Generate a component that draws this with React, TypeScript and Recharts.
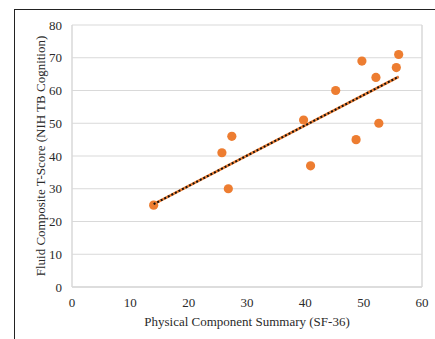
import React from 'react';
import {
  ScatterChart,
  Scatter,
  XAxis,
  YAxis,
  CartesianGrid,
  ReferenceLine,
} from 'recharts';

// Physical Component Summary (SF-36) vs Fluid Composite T-Score
const pcsScores = [14, 25.7, 27.4, 26.8, 39.7, 40.9, 45.2, 48.7, 49.7, 52.1, 52.6, 55.6, 56];
const fluidScores = [25, 41, 46, 30, 51, 37, 60, 45, 69, 64, 50, 67, 71];

// linear trendline endpoints
const trendX = [14, 56];
const trendY = [25.3, 64.2];

const xTicks = [0, 10, 20, 30, 40, 50, 60];
const yTicks = [0, 10, 20, 30, 40, 50, 60, 70, 80];

const points = pcsScores.map((x, i) => ({ x, y: fluidScores[i] }));
const trend = trendX.map((x, i) => ({ x, y: trendY[i] }));

const font = '"Liberation Serif", "Times New Roman", serif';
const gridColor = '#d9d9d9';
const textColor = '#2a2a2a';

const Dot = (props: any) => (
  <circle cx={props.cx} cy={props.cy} r={4.6} fill="#ED7D31" />
);

export default function App() {
  return (
    <div
      style={{
        position: 'absolute',
        left: 0,
        top: 0,
        width: 435,
        height: 339,
        overflow: 'hidden',
        background: '#fff',
      }}
    >
      <div
        style={{
          position: 'absolute',
          left: 14,
          top: 9,
          width: 460,
          height: 360,
          border: '1.5px solid #222',
        }}
      />
      <div style={{ position: 'absolute', left: 0, top: 0 }}>
        <ScatterChart
          width={435}
          height={339}
          margin={{ top: 25, right: 13, bottom: 22, left: 12 }}
        >
          <CartesianGrid
            vertical={false}
            stroke={gridColor}
            strokeWidth={1.2}
          />
          <XAxis
            type="number"
            dataKey="x"
            domain={[0, 60]}
            ticks={xTicks}
            tickLine={false}
            axisLine={{ stroke: gridColor, strokeWidth: 1.5 }}
            tickMargin={5}
            height={30}
            tick={{ fill: textColor, fontSize: 13, fontFamily: font }}
            label={{
              value: 'Physical Component Summary (SF-36)',
              position: 'insideBottom',
              offset: -9,
              fill: textColor,
              fontSize: 13,
              fontFamily: font,
            }}
          />
          <YAxis
            type="number"
            dataKey="y"
            domain={[0, 80]}
            ticks={yTicks}
            tickLine={false}
            axisLine={{ stroke: gridColor, strokeWidth: 1.5 }}
            tickMargin={4}
            width={60}
            tick={{ fill: textColor, fontSize: 13, fontFamily: font }}
            label={{
              value: 'Fluid Composite T-Score (NIH TB Cognition)',
              angle: -90,
              position: 'center',
              dx: -2,
              fill: textColor,
              fontSize: 13,
              fontFamily: font,
            }}
          />
          <ReferenceLine x={60} stroke={gridColor} strokeWidth={1.5} />
          <Scatter data={points} shape={Dot} isAnimationActive={false} />
          <Scatter
            data={trend}
            line={{ stroke: '#ED7D31', strokeWidth: 2.6 }}
            shape={() => <g />}
            isAnimationActive={false}
          />
          <Scatter
            data={trend}
            line={{ stroke: '#111', strokeWidth: 2, strokeDasharray: '2 2' }}
            shape={() => <g />}
            isAnimationActive={false}
          />
        </ScatterChart>
      </div>
    </div>
  );
}
